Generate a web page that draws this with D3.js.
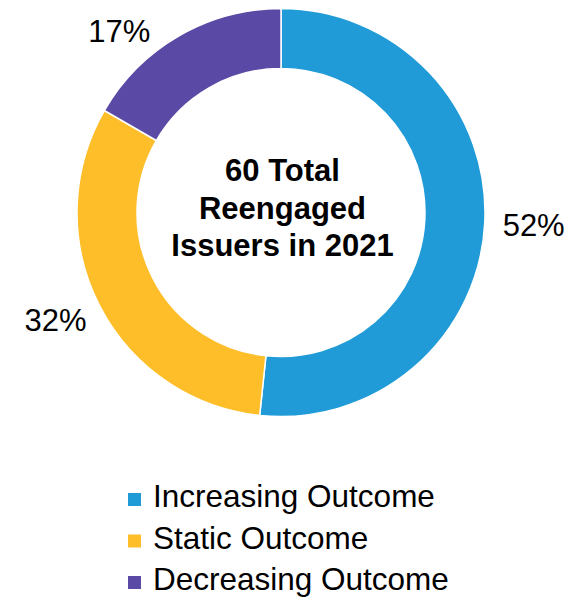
<!DOCTYPE html>
<html>
<head>
<meta charset="utf-8">
<script src="https://cdn.jsdelivr.net/npm/d3@7"></script>
<style>
  html, body { margin: 0; padding: 0; background: #ffffff; }
  svg { display: block; }
  text { font-family: "Liberation Sans", Arial, Helvetica, sans-serif; fill: #000; }
</style>
</head>
<body>
<svg id="chart" width="577" height="597"></svg>
<script>
// Reengaged issuers in 2021, by outcome
const categories = ["Increasing Outcome", "Static Outcome", "Decreasing Outcome"];
const issuerCounts = [31, 19, 10];
const sliceColors = ["#219bd7", "#fdbe2a", "#5b4aa5"];
const centerLines = ["60 Total", "Reengaged", "Issuers in 2021"];

const width = 577, height = 597;
const cx = 281, cy = 212.5;
const outerR = 204, innerR = 144;
const labelGap = 18;
const labelMinY = 31;

const svg = d3.select("#chart");
const total = d3.sum(issuerCounts);
const data = categories.map((c, i) => ({ category: c, value: issuerCounts[i], color: sliceColors[i] }));

const pie = d3.pie().value(d => d.value).sort(null);
const arc = d3.arc().innerRadius(innerR).outerRadius(outerR);
const arcs = pie(data);

const g = svg.append("g").attr("transform", `translate(${cx},${cy})`);

g.selectAll("path.slice")
  .data(arcs)
  .join("path")
  .attr("class", "slice")
  .attr("d", arc)
  .attr("fill", d => d.data.color)
  .attr("stroke", "#ffffff")
  .attr("stroke-width", 1.5);

// Percentage labels outside the ring; the box sits just beyond the arc along its mid-angle
const fmt = d3.format(".0%");
const labelFont = 31;
arcs.forEach(a => {
  let theta = (a.startAngle + a.endAngle) / 2;
  const t = g.append("text")
    .attr("font-size", labelFont)
    .attr("text-anchor", "middle")
    .attr("dy", "0.36em")
    .text(fmt(a.data.value / total));
  const w = t.node().getComputedTextLength();
  const halfH = 14;
  const rx = outerR + labelGap + w / 2;
  const ry = outerR + labelGap + halfH;
  let x = Math.sin(theta) * rx;
  let y = -Math.cos(theta) * ry;
  // keep labels inside the top edge by sliding along the ring
  if (cy + y < labelMinY) {
    const c = (cy - labelMinY) / ry;
    const s = Math.sign(Math.sin(theta)) * Math.sqrt(Math.max(0, 1 - c * c));
    x = s * rx;
    y = -c * ry;
  }
  t.attr("x", x).attr("y", y);
});

// Centre caption
const centerText = g.append("text")
  .attr("text-anchor", "middle")
  .attr("font-size", 31)
  .attr("font-weight", "bold");
centerLines.forEach((line, i) => {
  centerText.append("tspan")
    .attr("x", 1.5)
    .attr("y", -31.5 + i * 37.5)
    .text(line);
});

// Legend
const legend = svg.append("g").attr("transform", "translate(128,507)");
const legendRow = 41.5;
const item = legend.selectAll("g.item")
  .data(data)
  .join("g")
  .attr("class", "item")
  .attr("transform", (d, i) => `translate(0,${i * legendRow})`);
item.append("rect")
  .attr("x", 0)
  .attr("y", -14)
  .attr("width", 13)
  .attr("height", 13)
  .attr("fill", d => d.color);
item.append("text")
  .attr("x", 25)
  .attr("y", 0)
  .attr("font-size", 31.5)
  .text(d => d.category);
</script>
</body>
</html>
